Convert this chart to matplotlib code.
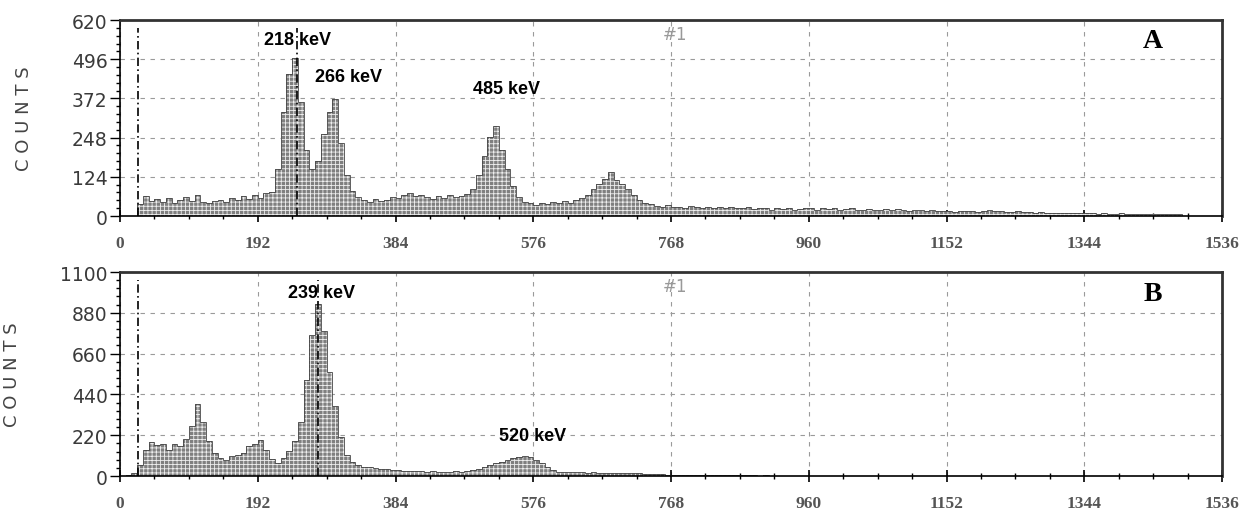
import numpy as np
import matplotlib
matplotlib.use("Agg")
import matplotlib.pyplot as plt
from matplotlib.ticker import MultipleLocator

# channel bins, 8 channels wide, 0..1536
bin_width = 8
edges = np.arange(0, 1536 + bin_width, bin_width)

# spectrum A (counts per bin)
counts_a = [
    0, 0, 0, 38, 62, 48, 55, 45, 58, 42, 52, 60, 46, 68, 44, 40,
    48, 52, 44, 58, 50, 62, 54, 66, 58, 72, 75, 150, 330, 450, 500, 360,
    210, 150, 175, 260, 330, 370, 230, 130, 80, 60, 52, 45, 55, 48, 52, 60,
    58, 65, 72, 62, 68, 60, 55, 62, 58, 68, 60, 64, 70, 85, 130, 190,
    250, 285, 210, 150, 95, 60, 45, 40, 36, 42, 38, 44, 40, 46, 42, 50,
    58, 68, 85, 100, 118, 140, 115, 100, 85, 65, 52, 42, 38, 32, 30, 34,
    28, 30, 26, 32, 28, 26, 30, 25, 28, 24, 30, 26, 24, 27, 22, 26,
    24, 20, 25, 22, 24, 20, 22, 26, 24, 20, 24, 22, 26, 20, 22, 24,
    20, 18, 22, 20, 18, 21, 19, 22, 18, 17, 20, 18, 16, 19, 17, 15,
    16, 14, 16, 15, 17, 14, 16, 18, 15, 16, 14, 13, 15, 12, 13, 11,
    12, 10, 11, 9, 10, 8, 10, 9, 8, 9, 7, 8, 7, 6, 8, 7,
    6, 7, 6, 5, 6, 5, 6, 5, 5, 0, 0, 0, 0, 0, 0, 0,
]

# spectrum B
counts_b = [
    0, 8, 14, 60, 140, 185, 165, 175, 140, 170, 160, 200, 270, 390, 290, 190,
    125, 95, 85, 110, 115, 125, 160, 175, 195, 140, 90, 72, 95, 135, 190, 290,
    520, 760, 930, 780, 560, 380, 210, 115, 75, 58, 50, 46, 42, 40, 36, 32,
    30, 28, 27, 25, 26, 24, 25, 23, 24, 22, 25, 24, 26, 30, 36, 48,
    60, 70, 78, 86, 95, 105, 110, 100, 88, 70, 48, 32, 24, 22, 20, 22,
    20, 18, 20, 17, 18, 16, 18, 15, 16, 14, 15, 12, 10, 9, 10, 8,
    7, 8, 6, 7, 6, 5, 6, 5, 4, 5, 4, 3, 4, 3, 3, 2,
    3, 2, 2, 2, 1, 2, 1, 1, 0, 0, 0, 0, 0, 0, 0, 0,
    0, 0, 0, 0, 0, 0, 0, 0, 0, 0, 0, 0, 0, 0, 0, 0,
    0, 0, 0, 0, 0, 0, 0, 0, 0, 0, 0, 0, 0, 0, 0, 0,
    0, 0, 0, 0, 0, 0, 0, 0, 0, 0, 0, 0, 0, 0, 0, 0,
    0, 0, 0, 0, 0, 0, 0, 0, 0, 0, 0, 0, 0, 0, 0, 0,
]

x_ticks = [0, 192, 384, 576, 768, 960, 1152, 1344, 1536]
y_ticks_a = [0, 124, 248, 372, 496, 620]
y_ticks_b = [0, 220, 440, 660, 880, 1100]

# peak labels: (text, channel, counts)
labels_a = [("218 keV", 248, 557), ("266 keV", 318, 440), ("485 keV", 539, 402)]
labels_b = [("239 keV", 281, 990), ("520 keV", 575, 216)]
marker_a = [25, 247]
marker_b = [25, 276]

plt.rcParams["hatch.linewidth"] = 0.6

fig = plt.figure(figsize=(12.41, 5.10), dpi=100)
ax_a = fig.add_axes([0.0967, 0.5745, 0.888, 0.3843])
ax_b = fig.add_axes([0.0967, 0.0647, 0.888, 0.400])


def draw_panel(ax, counts, y_ticks, labels, markers, letter):
    ymax = y_ticks[-1]
    ax.stairs(counts, edges, fill=True, facecolor="#7f7f7f", edgecolor="none")
    ax.stairs(counts, edges, fill=True, facecolor="none", edgecolor="#eeeeee",
              hatch="++++", linewidth=0)
    ax.stairs(counts, edges, color="#444444", linewidth=0.6)

    ax.set_xlim(0, 1536)
    ax.set_ylim(0, ymax)
    ax.set_xticks(x_ticks)
    ax.set_xticklabels([str(t) for t in x_ticks], fontsize=12.5, fontweight="bold",
                       family="Liberation Serif", color="#555555")
    ax.set_yticks(y_ticks)
    ax.set_yticklabels([str(t) for t in y_ticks], fontsize=13.5, color="#3a3a3a",
                       family="DejaVu Sans")
    ax.xaxis.set_minor_locator(MultipleLocator(48))
    ax.yaxis.set_minor_locator(MultipleLocator(y_ticks[1] / 5))
    ax.grid(True, which="major", color="#9a9a9a", linestyle=(0, (4, 5)), linewidth=0.8)
    ax.set_axisbelow(True)

    ax.tick_params(axis="x", which="major", direction="inout", length=8, width=1.2,
                   pad=10)
    ax.tick_params(axis="x", which="minor", direction="inout", length=5, width=1)
    ax.tick_params(axis="y", which="major", direction="out", length=7, width=1, pad=2)
    ax.tick_params(axis="y", which="minor", direction="out", length=3, width=1)

    for side in ["top", "right"]:
        ax.spines[side].set_linewidth(2)
        ax.spines[side].set_color("#333333")
    for side in ["left", "bottom"]:
        ax.spines[side].set_linewidth(1.2)

    for ch in markers:
        ax.axvline(ch, ymin=0.0, ymax=0.96, color="black", linestyle=(0, (5, 2, 1, 2)),
                   linewidth=1.2)

    for text, ch, y in labels:
        ax.text(ch, y, text, ha="center", va="center", fontsize=13, fontweight="bold",
                family="Liberation Sans")

    ax.text(774, ymax * 0.93, "#1", ha="center", va="center", fontsize=12,
            color="#999999", family="DejaVu Sans")
    ax.text(1440, ymax * 0.895, letter, ha="center", va="center", fontsize=20,
            fontweight="bold", family="Liberation Serif")
    ax.set_ylabel("C O U N T S", fontsize=13, color="#444444", labelpad=28)


draw_panel(ax_a, counts_a, y_ticks_a, labels_a, marker_a, "A")
draw_panel(ax_b, counts_b, y_ticks_b, labels_b, marker_b, "B")

fig.savefig("out.png", dpi=100)
